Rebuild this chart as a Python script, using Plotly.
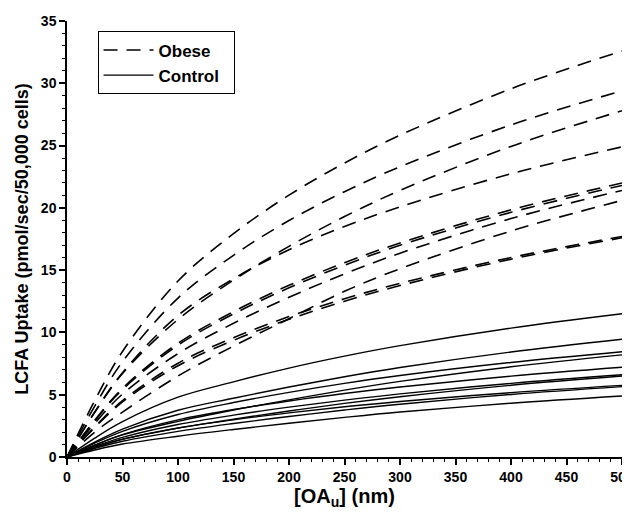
import plotly.graph_objects as go

# concentration grid (nm)
x_nm = [0, 25, 50, 100, 150, 200, 250, 300, 400, 500]

# Obese curves (LCFA uptake, pmol/sec/50,000 cells)
obese_1 = [0, 4.53, 8.47, 14.13, 17.93, 21.02, 23.6, 25.83, 29.56, 32.6]
obese_2 = [0, 4.09, 7.65, 12.76, 16.19, 18.98, 21.3, 23.30, 26.66, 29.4]
obese_3 = [0, 3.59, 6.70, 11.04, 14.20, 16.91, 19.3, 21.40, 24.93, 27.8]
obese_4 = [0, 3.61, 6.77, 11.36, 14.31, 16.64, 18.5, 20.08, 22.74, 24.9]
obese_5 = [0, 2.95, 5.51, 9.13, 11.67, 13.78, 15.6, 17.18, 19.84, 22.0]
obese_6 = [0, 2.90, 5.42, 8.98, 11.48, 13.58, 15.4, 16.99, 19.64, 21.8]
obese_7 = [0, 2.71, 5.05, 8.30, 10.73, 12.82, 14.7, 16.36, 19.14, 21.4]
obese_8 = [0, 2.00, 3.60, 6.50, 8.90, 11.10, 13.3, 15.11, 18.14, 20.6]
obese_9 = [0, 2.42, 4.52, 7.53, 9.58, 11.27, 12.7, 13.94, 16.01, 17.7]
obese_10 = [0, 2.37, 4.42, 7.33, 9.36, 11.05, 12.5, 13.76, 15.88, 17.6]

# Control curves
control_1 = [0, 1.52, 2.84, 4.80, 6.03, 7.14, 8.10, 8.94, 10.35, 11.5]
control_2 = [0, 1.20, 2.24, 3.75, 4.72, 5.62, 6.44, 7.18, 8.43, 9.45]
control_3 = [0, 1.11, 2.06, 3.41, 4.37, 5.19, 5.91, 6.54, 7.59, 8.45]
control_4 = [0, 0.95, 1.77, 2.86, 3.77, 4.59, 5.37, 6.07, 7.24, 8.2]
control_5 = [0, 0.96, 1.80, 2.98, 3.81, 4.50, 5.10, 5.62, 6.49, 7.2]
control_6 = [0, 0.85, 1.58, 2.61, 3.36, 4.00, 4.57, 5.07, 5.91, 6.6]
control_7 = [0, 0.77, 1.43, 2.32, 3.04, 3.69, 4.30, 4.84, 5.76, 6.5]
control_8 = [0, 0.75, 1.41, 2.33, 2.99, 3.54, 4.03, 4.46, 5.17, 5.75]
control_9 = [0, 0.68, 1.26, 2.06, 2.69, 3.25, 3.77, 4.24, 5.02, 5.65]
control_10 = [0, 0.56, 1.04, 1.67, 2.21, 2.71, 3.18, 3.61, 4.32, 4.9]

obese = [obese_1, obese_2, obese_3, obese_4, obese_5,
         obese_6, obese_7, obese_8, obese_9, obese_10]
control = [control_1, control_2, control_3, control_4, control_5,
           control_6, control_7, control_8, control_9, control_10]

legend_names = ["Obese\u00a0\u00a0", "Control\u00a0\u00a0"]

FONT = "Liberation Sans, Arial, Helvetica, sans-serif"

fig = go.Figure()
for i, y in enumerate(obese):
    fig.add_trace(go.Scatter(
        x=x_nm, y=y, mode="lines", name=legend_names[0], legendgroup="obese",
        showlegend=(i == 0),
        line=dict(color="black", width=1.6, dash="14px,9px", shape="spline"),
    ))
for i, y in enumerate(control):
    fig.add_trace(go.Scatter(
        x=x_nm, y=y, mode="lines", name=legend_names[1], legendgroup="control",
        showlegend=(i == 0),
        line=dict(color="black", width=1.4, shape="spline"),
    ))

axis_common = dict(
    showgrid=False, zeroline=False, showline=True, linecolor="black",
    linewidth=1.5, ticks="outside", ticklen=6, tickwidth=1.5,
    tickcolor="black", automargin=False, ticklabeloverflow="allow",
    tickfont=dict(family=FONT, size=14, color="black", weight="bold"),
)

fig.update_xaxes(
    range=[0, 500], dtick=50, tick0=0,
    minor=dict(dtick=10, ticks="outside", ticklen=3, tickwidth=1.2,
               tickcolor="black"),
    title=dict(text="[OA<sub>u</sub>] (nm)",
               font=dict(family=FONT, size=20, color="black", weight="bold"),
               standoff=5),
    **axis_common,
)
fig.update_yaxes(
    range=[0, 35], dtick=5, tick0=0,
    minor=dict(dtick=1, ticks="outside", ticklen=3, tickwidth=1.2,
               tickcolor="black"),
    title=dict(text="LCFA Uptake (pmol/sec/50,000 cells)",
               font=dict(family=FONT, size=18, color="black", weight="bold"),
               standoff=8),
    **axis_common,
)

# the page body adds an 8px offset, so the figure is sized/margined to
# land the plot area at the reference's on-screen position
fig.update_layout(
    width=630, height=504,
    margin=dict(l=59, r=16, t=13, b=55),
    paper_bgcolor="white", plot_bgcolor="white",
    showlegend=True,
    legend=dict(
        x=0.055, y=0.976, xanchor="left", yanchor="top",
        bordercolor="black", borderwidth=1, bgcolor="white",
        font=dict(family=FONT, size=17, color="black", weight="bold"),
        itemwidth=50, traceorder="grouped", tracegroupgap=0,
    ),
)

fig.write_html("out.html")
